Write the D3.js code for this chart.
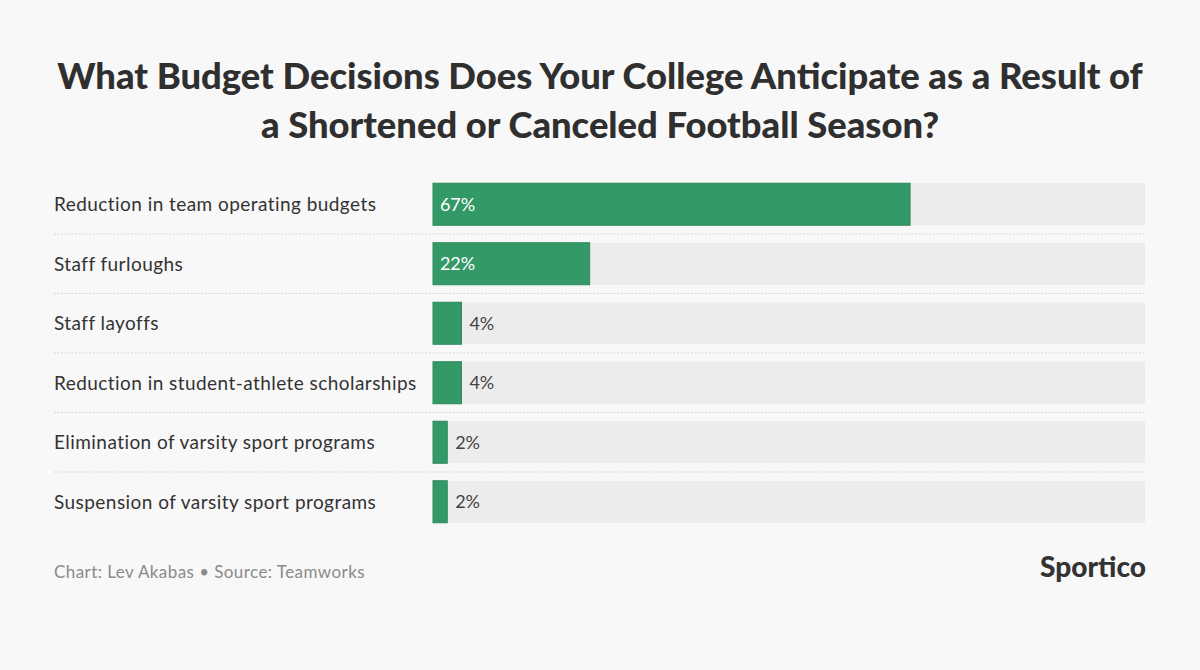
<!DOCTYPE html>
<html><head><meta charset="utf-8">
<script src="https://cdn.jsdelivr.net/npm/d3@7"></script>
<style>
html,body{margin:0;padding:0;background:#f8f8f8;}
svg{display:block;}
</style></head>
<body>
<svg id="chart" width="1200" height="670"></svg>
<script>
const categories = [
  "Reduction in team operating budgets",
  "Staff furloughs",
  "Staff layoffs",
  "Reduction in student-athlete scholarships",
  "Elimination of varsity sport programs",
  "Suspension of varsity sport programs"
];
const values = [67, 22, 4, 4, 2, 2];
const titleLines = [
  "What Budget Decisions Does Your College Anticipate as a Result of",
  "a Shortened or Canceled Football Season?"
];
const credit = "Chart: Lev Akabas \u2022 Source: Teamworks";
const brand = "Sportico";

const svg = d3.select("#chart");
const W = 1200, H = 670;
svg.append("rect").attr("width", W).attr("height", H).attr("fill", "#f8f8f8");

const font = "Lato, 'Noto Sans', sans-serif";

function fitText(sel, target) {
  const len = sel.node().getComputedTextLength();
  const fs = parseFloat(sel.attr("font-size"));
  sel.attr("font-size", fs * target / len);
}
function spacingFor(sel, target) {
  const len = sel.node().getComputedTextLength();
  const n = sel.text().length;
  return (target - len) / n;
}

// Title
const t1 = svg.append("text").attr("x", 600).attr("y", 89).attr("text-anchor", "middle")
  .attr("font-family", font).attr("font-weight", 900).attr("font-size", 32).attr("fill", "#2f2f2f")
  .text(titleLines[0]);
fitText(t1, 1086);
svg.append("text").attr("x", 600).attr("y", 138).attr("text-anchor", "middle")
  .attr("font-family", font).attr("font-weight", 900).attr("font-size", t1.attr("font-size")).attr("fill", "#2f2f2f")
  .text(titleLines[1]);

// Scales
const x = d3.scaleLinear().domain([0, 100]).range([433, 1145]);
const y = d3.scaleBand().domain(categories).range([174.5, 531.5]).paddingInner(0.294).paddingOuter(0.147);

// separators
svg.append("g").selectAll("line").data(categories.slice(1)).join("line")
  .attr("x1", 54).attr("x2", 1145)
  .attr("y1", d => y(d) - y.step() * y.paddingInner() / 2)
  .attr("y2", d => y(d) - y.step() * y.paddingInner() / 2)
  .attr("stroke", "#d6d6d6").attr("stroke-width", 1).attr("stroke-dasharray", "2,1.5");

const rows = svg.append("g").selectAll("g").data(categories).join("g");

// tracks
rows.append("rect").attr("x", x(0)).attr("width", x(100) - x(0))
  .attr("y", d => y(d)).attr("height", y.bandwidth()).attr("fill", "#ececec");

// bars
rows.append("rect").attr("x", x(0))
  .attr("width", (d, i) => x(values[i]) - x(0))
  .attr("y", d => y(d)).attr("height", y.bandwidth())
  .attr("fill", "#339966").attr("stroke", "#2b8a5b").attr("stroke-width", 1);

// category labels
const labels = rows.append("text").attr("x", 54).attr("y", d => y(d) + y.bandwidth() / 2)
  .attr("dy", "0.36em").attr("font-family", font).attr("font-size", 19).attr("fill", "#333")
  .text(d => d);
const ls = spacingFor(d3.select(labels.nodes()[3]), 363);
labels.attr("letter-spacing", ls);

// value labels
const vl = rows.append("text")
  .attr("x", (d, i) => values[i] > 10 ? x(0) + 7 : x(values[i]) + 8)
  .attr("y", d => y(d) + y.bandwidth() / 2).attr("dy", "0.36em")
  .attr("font-family", font).attr("font-size", 18)
  .attr("fill", (d, i) => values[i] > 10 ? "#ffffff" : "#444")
  .text((d, i) => values[i] + "%");
vl.attr("letter-spacing", spacingFor(d3.select(vl.nodes()[0]), 35));

// footer
const cr = svg.append("text").attr("x", 54).attr("y", 578).attr("font-family", font).attr("font-size", 17)
  .attr("fill", "#8a8a8a").text(credit);
cr.attr("letter-spacing", spacingFor(cr, 311));
const br = svg.append("text").attr("x", 1146).attr("y", 577).attr("text-anchor", "end")
  .attr("font-family", font).attr("font-weight", 900).attr("font-size", 26).attr("fill", "#333")
  .text(brand);
fitText(br, 106);
</script>
</body></html>
